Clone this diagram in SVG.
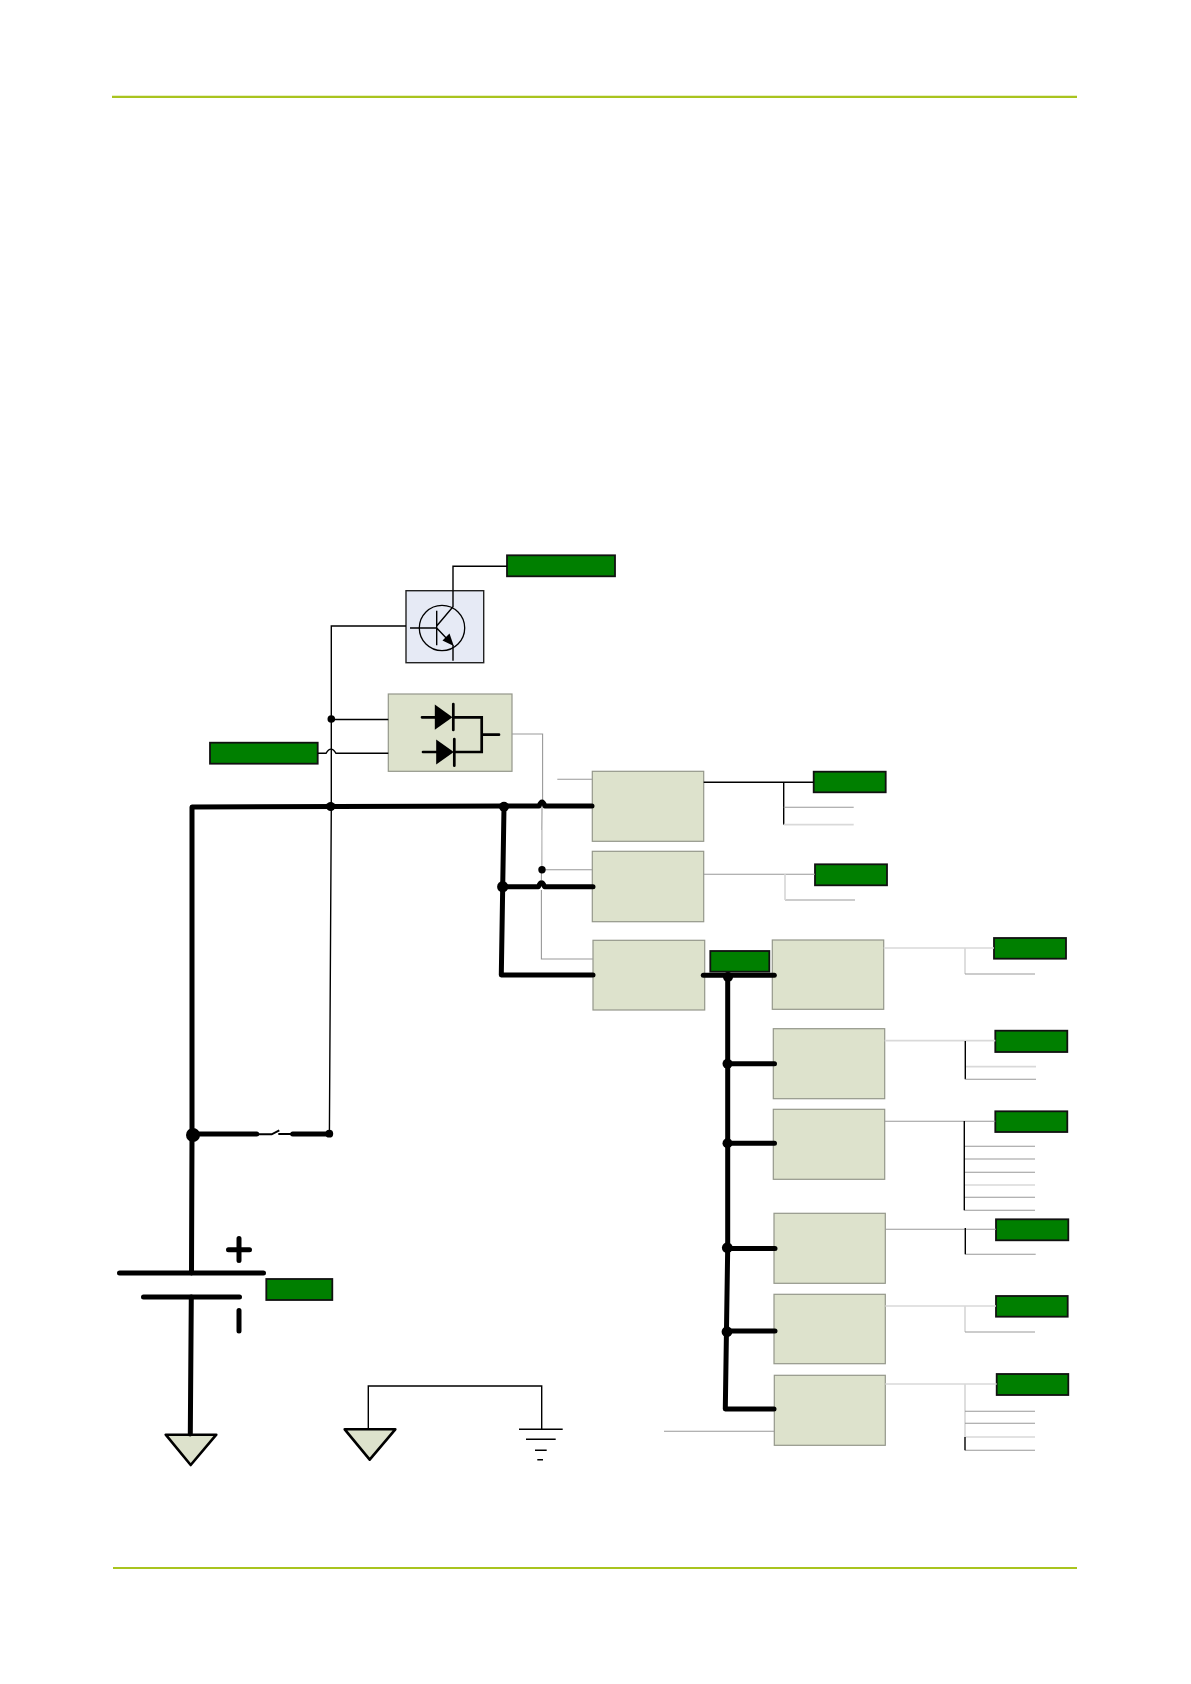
<svg xmlns="http://www.w3.org/2000/svg" width="1191" height="1684" viewBox="0 0 1191 1684">
<style>
.box{fill:#dde2cc;stroke:#94978a;stroke-width:1.2}
.tag{fill:#007f00;stroke:#111;stroke-width:1.8}
.rule{stroke:#a9c41f;stroke-width:2.2;fill:none}
.bus{stroke:#000;stroke-width:5;fill:none;stroke-linecap:round;stroke-linejoin:round}
.k{stroke:#000;stroke-width:1.4;fill:none}
.g{stroke:#999;stroke-width:1.1;fill:none}
.l{stroke:#d9d9d9;stroke-width:1.7;fill:none}
.sym{stroke:#000;stroke-width:2.7;fill:none;stroke-linecap:round}
.gnd{fill:#dde2cc;stroke:#000;stroke-width:2.6;stroke-linejoin:round}
</style>
<rect width="1191" height="1684" fill="#fff"/>
<g id="page-rules">
<path class="rule" d="M112 96.8H1077"/>
<path class="rule" d="M113 1568H1077"/>
</g>
<g id="transistor">
<rect x="406" y="590.7" width="77.7" height="72" fill="#e6eaf5" stroke="#222" stroke-width="1.4"/>
<circle cx="442" cy="628" r="22.7" fill="none" stroke="#000" stroke-width="1.3"/>
<path class="k" d="M410 628H436.7M436.7 610.7V645.3M436.7 626L453 606.7V590.7M436.7 628L449 641M453 645V660.7"/>
<polygon points="453.8,646 442.5,640.5 449.5,633.5" fill="#000"/>
</g>
<g id="diodes">
<rect class="box" x="388.3" y="694" width="123.7" height="77.3"/>
<polygon points="434.8,704.5 434.8,729.8 452.5,717.3" fill="#000"/>
<polygon points="436.2,739.5 436.2,764.5 453.8,752" fill="#000"/>
<path class="sym" d="M422 717.3H436M453.3 704V730M453.3 717.3H481.7V752H454.3M454.3 739V765.7M423 752H437M481.7 734.7H499"/>
</g>
<g id="tag-collector"><rect class="tag" x="507" y="555.3" width="108" height="21"/></g>
<g id="tag-left"><rect class="tag" x="210" y="742.7" width="107.7" height="21"/></g>
<g id="tag-bus"><rect class="tag" x="710.3" y="951" width="59" height="20.7"/></g>
<g id="tag-battery"><rect class="tag" x="266.3" y="1279" width="66" height="21"/></g>
<g id="tag-a"><rect class="tag" x="813.7" y="771.7" width="72" height="20.6"/></g>
<g id="tag-b"><rect class="tag" x="815" y="864.3" width="72" height="21"/></g>
<g id="tag-d"><rect class="tag" x="994" y="938" width="72" height="20.7"/></g>
<g id="tag-e"><rect class="tag" x="995.3" y="1030.7" width="72" height="21.3"/></g>
<g id="tag-f"><rect class="tag" x="995.3" y="1111.3" width="72" height="20.7"/></g>
<g id="tag-g"><rect class="tag" x="996" y="1219.3" width="72.3" height="21"/></g>
<g id="tag-h"><rect class="tag" x="996" y="1296" width="71.7" height="20.7"/></g>
<g id="tag-i"><rect class="tag" x="996.7" y="1374" width="71.6" height="21"/></g>
<g id="box-a"><rect class="box" x="592.3" y="771.3" width="111.4" height="70"/></g>
<g id="box-b"><rect class="box" x="592.3" y="851.3" width="111.4" height="70.4"/></g>
<g id="box-c"><rect class="box" x="593" y="940.3" width="111.7" height="69.7"/></g>
<g id="box-d"><rect class="box" x="772.3" y="940" width="111.4" height="69.3"/></g>
<g id="box-e"><rect class="box" x="773.3" y="1028.7" width="111.4" height="70"/></g>
<g id="box-f"><rect class="box" x="773.3" y="1109.3" width="111.4" height="70"/></g>
<g id="box-g"><rect class="box" x="774" y="1213.3" width="111.3" height="70"/></g>
<g id="box-h"><rect class="box" x="774" y="1294.3" width="111.3" height="69.4"/></g>
<g id="box-i"><rect class="box" x="774.3" y="1375.3" width="111" height="70"/></g>
<g id="battery">
<path class="bus" d="M119.5 1273H263.5M143.5 1297H239.5M228.5 1249.7H249.5M239 1238.5V1260.5M239 1310.5V1331"/>
</g>
<g id="ground-1"><polygon class="gnd" points="165.7,1434.7 216.3,1434.7 190.7,1465"/></g>
<g id="ground-2"><polygon class="gnd" points="344.7,1429.3 395.3,1429.3 369.7,1459.7"/></g>
<g id="earth">
<path class="k" d="M519 1429.3H562.7M526 1439.3H555.7M535 1450.3H546.7M537.3 1459.7H543"/>
</g>
<g id="connectors">
<path class="k" d="M453 590.7V566.3H507"/>
<path class="k" d="M406 626H331.3V719"/>
<path class="k" d="M331.3 719V806.5L329.4 1134"/>
<path class="k" d="M331.3 719.5H388.3"/>
<path class="k" d="M317.7 753.3H326Q331 745 336 753.3H388.3"/>
<path class="g" d="M512 734H542.6V800Q542 802 542 811L541.4 880M541.4 890V959H593"/>
<path class="l" d="M542.2 830V869"/>
<path class="g" d="M542 869.7H592.3"/>
<path class="g" d="M557.3 779.3H592.3"/>
<path class="k" d="M703.7 782.3H813.7M783.7 782.3V824.7"/>
<path class="g" d="M783.7 807.3H853.7"/>
<path class="l" d="M783.7 824.7H853.7"/>
<path class="g" d="M703.7 874.3H815M785 900H855"/>
<path class="l" d="M785 874.3V900"/>
<path class="l" d="M883.7 948H994M965 948V974"/>
<path class="g" d="M965 974H1035"/>
<path class="l" d="M884.7 1040.7H995.3M965.3 1066.7H1036"/>
<path class="k" d="M965.3 1041V1079.3"/>
<path class="g" d="M965.3 1079.3H1036"/>
<path class="g" d="M884.7 1121.3H995.3M964.3 1146.3H1035M964.3 1159H1035M964.3 1172.3H1035M964.3 1197.3H1035M964.3 1210.3H1035"/>
<path class="l" d="M964.3 1185H1035"/>
<path class="k" d="M964.3 1121V1210.3"/>
<path class="g" d="M885.3 1229.3H996M965.3 1254.3H1035.7"/>
<path class="k" d="M965.3 1228V1254.3"/>
<path class="l" d="M885.3 1306H996M965 1306V1332"/>
<path class="g" d="M965 1332H1035"/>
<path class="l" d="M885.3 1384H996.7M965 1384V1437M965 1437H1035"/>
<path class="g" d="M965 1411.3H1035M965 1423.3H1035M965 1450.3H1035"/>
<path class="k" d="M965 1437V1450.3"/>
<path class="g" d="M664 1431.3H774.3"/>
<path class="k" d="M368.3 1429V1386H541.7V1429.3"/>
<path class="bus" d="M592 806H545Q542 798 539 806H505L192 807V1135L191.5 1273"/>
<path class="bus" d="M191.3 1297L190.3 1434"/>
<path class="bus" d="M504 807L502.7 887L501.3 975H593"/>
<path class="bus" d="M503 886.7H538.5Q541.5 879 544.5 886.7H593"/>
<path class="bus" d="M703.3 975.3H774.3"/>
<path class="bus" d="M727.7 977V1248L725.3 1409H774"/>
<path class="bus" d="M727.5 1063.7H774.5M727.5 1143.3H774.5M727 1248.5H775M727 1331H775"/>
<path class="bus" d="M193 1134H256.7M292.7 1134H329.3"/>
<path d="M256.7 1134.3H271.7L279.3 1130.3M278.3 1134H292.7" stroke="#000" stroke-width="2" fill="none"/>
<g fill="#000">
<circle cx="331.3" cy="719" r="3.8"/>
<circle cx="330.7" cy="806.5" r="4.6"/>
<circle cx="504" cy="806.7" r="5"/>
<circle cx="542" cy="869.7" r="3.7"/>
<circle cx="502.7" cy="886.7" r="5.6"/>
<circle cx="728" cy="977" r="5"/>
<circle cx="727.5" cy="1063.7" r="5"/>
<circle cx="727.5" cy="1143.3" r="5"/>
<circle cx="727.3" cy="1247.7" r="5.4"/>
<circle cx="727" cy="1331.7" r="5.4"/>
<circle cx="193" cy="1135" r="7"/>
<circle cx="329.3" cy="1133.7" r="3.9"/>
</g>
</g>
</svg>
